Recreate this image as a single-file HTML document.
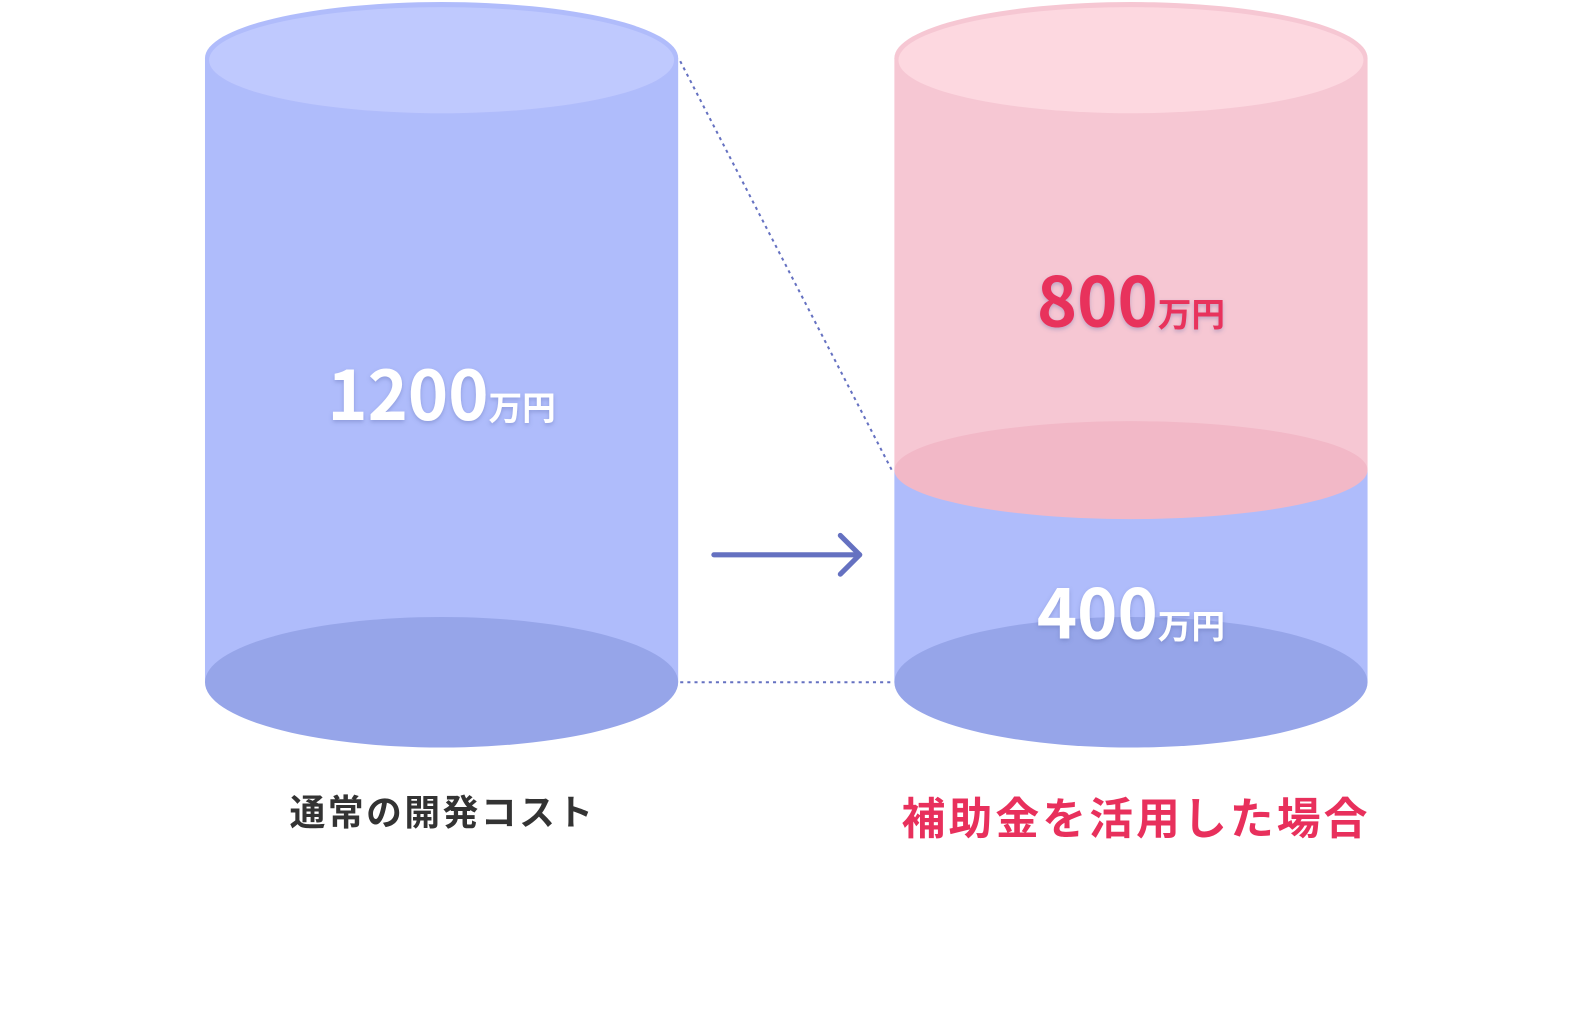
<!DOCTYPE html>
<html><head><meta charset="utf-8"><style>
body{margin:0;background:#fff;}
svg{display:block}
text{font-family:"Noto Sans CJK JP","Liberation Sans",sans-serif;font-weight:bold}
</style></head><body>
<svg width="1596" height="1030" viewBox="0 0 1565 1010" xmlns="http://www.w3.org/2000/svg">
<defs><filter id="sh" x="-20%" y="-20%" width="140%" height="140%"><feDropShadow dx="0" dy="2" stdDeviation="2" flood-color="#5060a0" flood-opacity="0.35"/></filter></defs>
<rect x="201" y="57" width="464" height="612" fill="#afbcfb"/>
<ellipse cx="433" cy="669" rx="232" ry="64" fill="#96a5e9"/>
<ellipse cx="433" cy="57" rx="232" ry="55" fill="#b0bcfb"/>
<ellipse cx="433" cy="59" rx="228" ry="52" fill="#bfc9fe"/>
<rect x="877" y="461" width="464" height="208" fill="#afbcfb"/>
<ellipse cx="1109" cy="669" rx="232" ry="64" fill="#96a5e9"/>
<rect x="877" y="57" width="464" height="404" fill="#f6c7d3"/>
<ellipse cx="1109" cy="461" rx="232" ry="48" fill="#f2b8c7"/>
<ellipse cx="1109" cy="57" rx="232" ry="55" fill="#f6c7d3"/>
<ellipse cx="1109" cy="59" rx="228" ry="52" fill="#fdd8e0"/>
<line x1="667" y1="60" x2="875" y2="462" stroke="#6571c1" stroke-width="2" stroke-dasharray="3,4"/>
<line x1="667" y1="669" x2="875" y2="669" stroke="#6571c1" stroke-width="2" stroke-dasharray="3,4"/>
<line x1="700" y1="544" x2="843" y2="544" stroke="#6571c1" stroke-width="5" stroke-linecap="round"/>
<polyline points="824,525 843,544 824,563" fill="none" stroke="#6571c1" stroke-width="5" stroke-linecap="round" stroke-linejoin="round"/>
<text x="433" y="412" text-anchor="middle" fill="#fff" filter="url(#sh)"><tspan font-size="67">1200</tspan><tspan font-size="33">万円</tspan></text>
<text x="1109" y="320" text-anchor="middle" fill="#e8305c" filter="url(#sh)"><tspan font-size="67">800</tspan><tspan font-size="33">万円</tspan></text>
<text x="1109" y="626" text-anchor="middle" fill="#fff" filter="url(#sh)"><tspan font-size="67">400</tspan><tspan font-size="33">万円</tspan></text>
<text x="434" y="809" text-anchor="middle" font-size="35" fill="#333" letter-spacing="2.5">通常の開発コスト</text>
<text x="1114" y="818" text-anchor="middle" font-size="43" fill="#e8305c" letter-spacing="3">補助金を活用した場合</text>
</svg>
</body></html>
